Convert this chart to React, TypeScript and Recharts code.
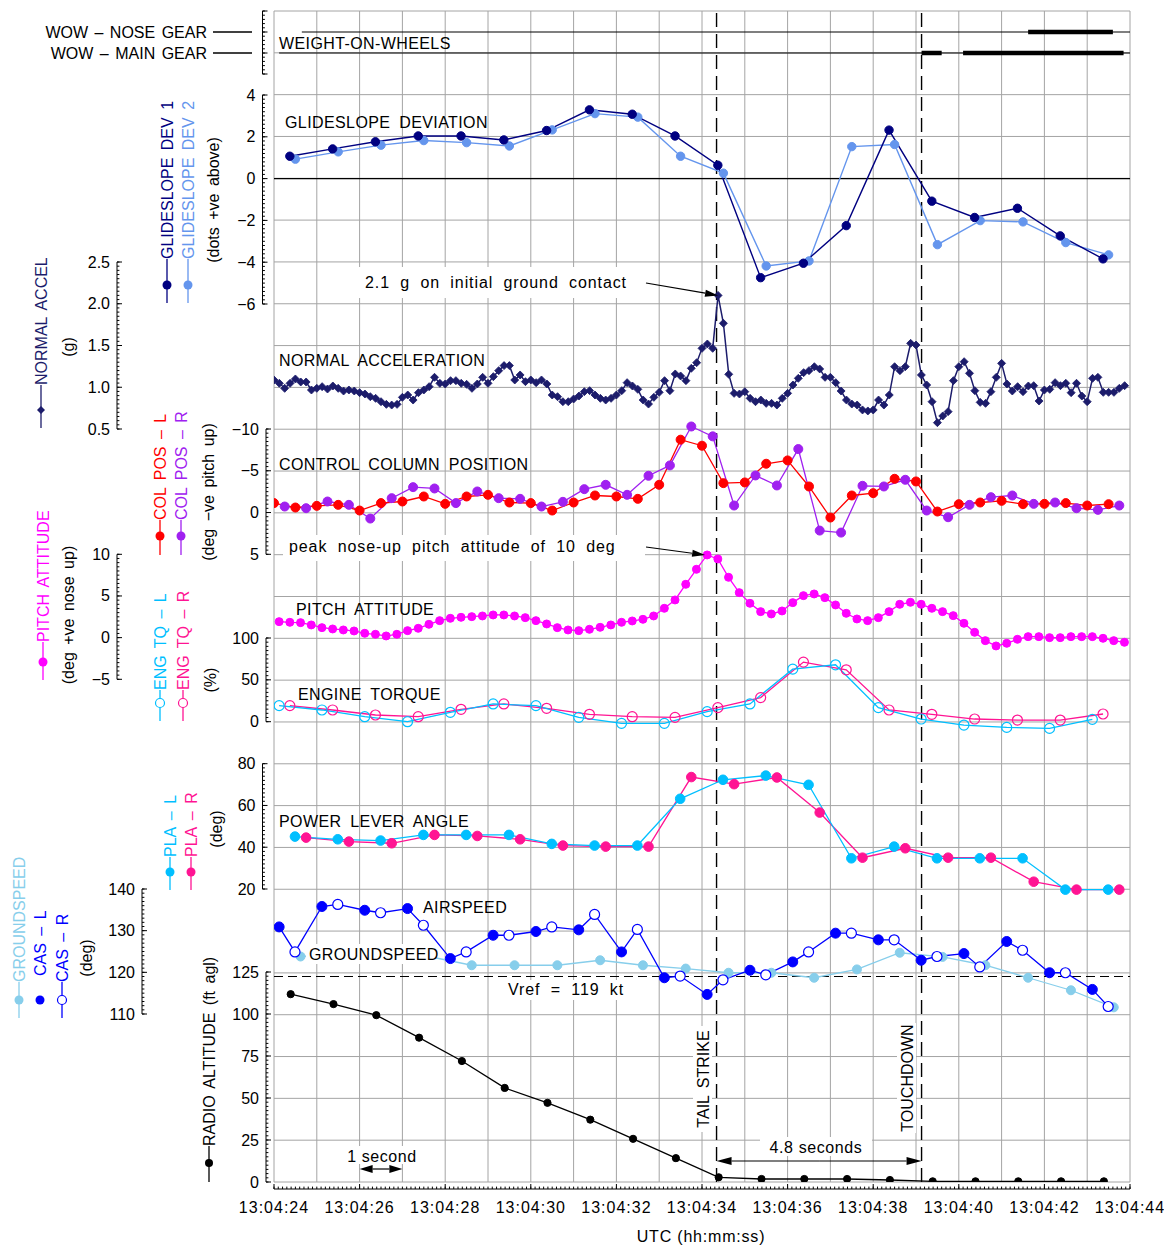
import React from 'react';
import { ComposedChart, Line, XAxis, YAxis, CartesianGrid, ReferenceLine } from 'recharts';

// times are seconds past 13:04:00 UTC
const timeTicks = [24, 26, 28, 30, 32, 34, 36, 38, 40, 42, 44];
const gridSeconds = [24, 25, 26, 27, 28, 29, 30, 31, 32, 33, 34, 35, 36, 37, 38, 39, 40, 41, 42, 43, 44];
const gridRows = Array.from({ length: 29 }, (_, i) => i);
const tailStrikeT = 34.34;
const touchdownT = 39.13;

// weight on wheels: thin = air, thick = ground
const wowNoseSpan = [24.65, 44];
const wowMainSpan = [24.12, 44];
const wowNoseGround = [[41.62, 43.6]];
const wowMainGround = [[39.13, 39.6], [40.1, 43.85]];

// glideslope deviation (dots), 1 Hz
const gsDev1Start = 24.37;
const gsDev1 = [1.07, 1.42, 1.76, 2.04, 2.04, 1.85, 2.3, 3.29, 3.08, 2.04, 0.64, -4.74, -4.05, -2.25, 2.32, -1.08, -1.86, -1.42, -2.74, -3.84];
const gsDev2Start = 24.5;
const gsDev2 = [0.93, 1.28, 1.6, 1.82, 1.72, 1.56, 2.33, 3.11, 2.94, 1.07, 0.26, -4.18, -3.94, 1.53, 1.63, -3.16, -2.01, -2.07, -3.06, -3.65];

// normal acceleration (g), 8 Hz
const naccStart = 24.0;
const nacc = [
  1.087, 1.047, 0.987, 1.047, 1.099, 1.063, 1.063, 0.967, 0.987, 1.007,
  0.979, 1.015, 0.987, 0.955, 0.967, 0.955, 0.935, 0.919, 0.887, 0.867,
  0.827, 0.795, 0.787, 0.795, 0.879, 0.907, 0.847, 0.935, 0.967, 1.007,
  1.119, 1.047, 1.039, 1.079, 1.079, 1.047, 1.035, 0.987, 1.039, 1.119,
  1.047, 1.127, 1.199, 1.259, 1.259, 1.087, 1.147, 1.067, 1.087, 1.055,
  1.087, 1.039, 0.907, 0.887, 0.827, 0.827, 0.859, 0.895, 0.947, 0.959,
  0.907, 0.867, 0.847, 0.867, 0.907, 0.959, 1.055, 1.015, 0.975, 0.847,
  0.799, 0.879, 0.939, 1.079, 0.959, 1.159, 1.135, 1.079, 1.227, 1.294,
  1.466, 1.518, 1.466, 2.1, 1.766, 1.155, 0.927, 0.919, 0.947, 0.867,
  0.827, 0.847, 0.807, 0.807, 0.787, 0.867, 0.927, 1.027, 1.107, 1.175,
  1.199, 1.246, 1.219, 1.119, 1.119, 1.055, 0.955, 0.847, 0.799, 0.787,
  0.728, 0.716, 0.728, 0.847, 0.787, 0.907, 1.246, 1.199, 1.246, 1.526,
  1.506, 1.147, 1.027, 0.827, 0.576, 0.656, 0.708, 1.079, 1.246, 1.306,
  1.167, 0.959, 0.819, 0.807, 0.947, 1.119, 1.286, 1.039, 0.955, 1.007,
  0.947, 1.015, 1.019, 0.835, 0.967, 0.975, 1.055, 1.019, 1.047, 0.935,
  1.047, 0.895, 0.827, 1.107, 1.119, 0.939, 0.939, 0.939, 0.987, 1.019,
];

// control column position (deg, -ve pitch up), 2 Hz
const colLStart = 24.0;
const colL = [
  -1.13, -0.6, -0.8, -0.92, -0.24, -1.13, -1.32, -1.92, -1.04, -1.92,
  -2.12, -1.2, -1.13, -0.24, -1.2, -2.04, -1.92, -1.64, -3.32, -8.72,
  -8.0, -3.52, -3.6, -5.84, -6.24, -3.12, 0.6, -2.04, -2.32, -4.04,
  -3.72, -0.12, -1.0, -1.2, -1.4, -1.0, -1.04, -1.13, -0.84, -1.0,
];
const colRStart = 24.25;
const colR = [
  -0.72, -0.52, -1.32, -0.92, 0.72, -1.72, -3.04, -2.88, -1.13, -2.52,
  -1.72, -1.64, -0.72, -1.28, -2.8, -3.32, -2.12, -4.4, -5.64, -10.3,
  -9.12, -0.84, -4.44, -3.24, -7.6, 2.16, 2.4, -3.2, -3.12, -3.92,
  -0.24, 0.56, -0.92, -1.84, -2.04, -1.04, -1.2, -0.52, -0.32, -0.84,
];

// pitch attitude (deg), 4 Hz
const pitchStart = 24.12;
const pitch = [
  1.92, 1.84, 1.8, 1.52, 1.2, 1.04, 0.92, 0.8, 0.52, 0.4,
  0.2, 0.4, 0.84, 1.12, 1.6, 2.04, 2.32, 2.44, 2.52, 2.6,
  2.72, 2.72, 2.6, 2.4, 2.04, 1.64, 1.2, 0.92, 0.84, 1.0,
  1.24, 1.52, 1.84, 2.0, 2.2, 2.6, 3.52, 4.52, 6.4, 8.2,
  9.92, 9.44, 7.24, 5.4, 4.12, 3.12, 2.84, 3.2, 4.2, 5.04,
  5.24, 4.8, 3.92, 2.92, 2.24, 2.04, 2.4, 3.12, 4.0, 4.24,
  4.0, 3.52, 3.12, 2.64, 1.72, 0.64, -0.36, -1.0, -0.68, -0.2,
  0.12, 0.12, 0.0, 0.0, 0.12, 0.12, 0.12, -0.08, -0.36, -0.56,
];

// engine torque (%), 1 Hz
const tqLStart = 24.12;
const tqL = [19.2, 14.0, 6.0, 0, 11.2, 21.2, 19.2, 5.2, -2.0, -2.0, 12.0, 21.2, 62.8, 68.0, 16.8, 3.2, -4.0, -6.8, -8.0, 2.8];
const tqRStart = 24.37;
const tqR = [19.2, 14.0, 8.0, 6.0, 14.8, 21.2, 16.0, 8.8, 6.0, 5.2, 16.8, 28.8, 71.2, 62.0, 14.0, 8.8, 3.2, 2.0, 2.0, 9.2];

// power lever angle (deg), 1 Hz
const plaLStart = 24.49;
const plaL = [45.1, 43.8, 43.2, 45.9, 45.9, 45.9, 41.6, 40.8, 40.8, 63.2, 72.3, 74.3, 69.9, 34.7, 40.3, 34.7, 34.7, 34.7, 19.7, 19.7];
const plaRStart = 24.75;
const plaR = [44.6, 42.7, 41.9, 45.9, 45.4, 43.8, 40.8, 40.3, 40.3, 73.6, 70.2, 73.4, 56.6, 35.0, 39.5, 35.0, 35.0, 23.5, 19.7, 19.7];

// airspeed / groundspeed (kt), 1 Hz each
const casLStart = 24.12;
const casL = [130.9, 135.8, 134.9, 135.3, 123.3, 128.9, 129.8, 130.2, 124.9, 118.7, 114.7, 120.5, 122.5, 129.4, 127.8, 122.9, 124.5, 127.4, 119.9, 115.9];
const casRStart = 24.49;
const casR = [124.9, 136.3, 134.3, 131.3, 124.9, 128.9, 130.9, 133.9, 130.3, 119.1, 118.2, 119.4, 124.9, 129.4, 127.8, 123.8, 121.3, 125.3, 119.9, 111.8];
const gndStart = 24.62;
const gndSpeed = [123.8, 124.2, 124.0, 123.8, 121.7, 121.7, 121.7, 122.9, 121.7, 120.9, 119.9, 119.9, 118.7, 120.7, 124.7, 123.7, 121.7, 118.7, 115.7, 111.6];
const vref = 119;

// radio altitude (ft agl), 1 Hz
const raltStart = 24.39;
const ralt = [111.8, 105.9, 99.3, 85.9, 72.0, 56.0, 47.1, 37.1, 25.7, 14.2, 2.8, 1.8, 1.8, 1.8, 1.2, 0.4, 0.4, 0.4, 0.4, 0.4];

// axis tick labels
const gsTicks = [4, 2, 0, -2, -4, -6];
const naccTicks = [2.5, 2.0, 1.5, 1.0, 0.5];
const colTicks = [-10, -5, 0, 5];
const pitchTicks = [10, 5, 0, -5];
const tqTicks = [100, 50, 0];
const plaTicks = [80, 60, 40, 20];
const casTicks = [140, 130, 120, 110];
const raltTicks = [125, 100, 75, 50, 25, 0];
const wowTicks = [2, 1, 0, -1];

// ---------------- layout ----------------
const W = 1164;
const H = 1237;
const OFF = 8; // body margin
const TOP = 11;
const BOTTOM = 1182;
const LEFT = 274;
const RIGHT = 1130;

// each panel: two (value, page y) pairs
const scaleRefs: Record<string, number[]> = {
  grid: [28, TOP, 0, BOTTOM],
  wow: [1, 32, 0, 53],
  gs: [4, 95, -6, 304],
  nacc: [2.5, 262, 0.5, 429],
  col: [-10, 429, 5, 554.3],
  pitch: [10, 554.3, -5, 679.3],
  tq: [100, 638, 0, 721.7],
  pla: [80, 763.7, 20, 889],
  cas: [140, 889, 110, 1014],
  ralt: [125, 972, 0, 1182],
};

function yDomain(id: string) {
  const [v1, y1, v2, y2] = scaleRefs[id];
  const s = (y2 - y1) / (v2 - v1);
  const vt = v1 + (TOP - y1) / s;
  const vb = v1 + (BOTTOM - y1) / s;
  return s < 0 ? { domain: [vb, vt], reversed: false } : { domain: [vt, vb], reversed: true };
}
const py = (id: string, v: number) => {
  const [v1, y1, v2, y2] = scaleRefs[id];
  return y1 + ((v - v1) * (y2 - y1)) / (v2 - v1);
};
const px = (t: number) => LEFT + ((t - 24) * (RIGHT - LEFT)) / 20;

const series = (start: number, step: number, vals: number[]) =>
  vals.map((v, i) => ({ t: +(start + i * step).toFixed(3), v }));
const wowThin = (span: number[], row: number) => [{ t: span[0], v: row }, { t: span[1], v: row }];
const wowThick = (segs: number[][], row: number) =>
  segs.flatMap(([a, b]) => [{ t: a, v: row }, { t: b, v: row }, { t: b, v: null as number | null }]);

const casLPts = series(casLStart, 1, casL);
const casRPts = series(casRStart, 1, casR);
const casAll = [...casLPts, ...casRPts].sort((a, b) => a.t - b.t);

const C = {
  navy: '#000080',
  dev2: '#6495ed',
  nacc: '#1c1c6b',
  red: '#ff0000',
  purple: '#a020f0',
  magenta: '#ff00ff',
  cyan: '#00bfff',
  pink: '#ff1493',
  blue: '#0000ff',
  sky: '#87ceeb',
  black: '#000000',
};

const diamond = (color: string, s: number) => (p: any) => {
  const { cx, cy, index } = p;
  if (cx == null || cy == null) return <g key={index} />;
  return (
    <path key={index} d={`M${cx},${cy - s}L${cx + s},${cy}L${cx},${cy + s}L${cx - s},${cy}Z`} fill={color} stroke={color} strokeWidth={0.8} />
  );
};
const filled = (color: string, r: number) => ({ r, fill: color, stroke: color, strokeWidth: 1 });
const open = (color: string, r: number) => ({ r, fill: 'none', stroke: color, strokeWidth: 1.2 });

const common = { xAxisId: 't', dataKey: 'v', isAnimationActive: false, activeDot: false, legendType: 'none' as const, type: 'linear' as const };

const FONT = '"Liberation Sans", Arial, sans-serif';
const minus = (v: number) => (v < 0 ? '\u2212' + String(-v) : String(v));

function AxisDecor({ id, x, ticks, minor, fmt, labels = true }: { id: string; x: number; ticks: number[]; minor: number; fmt?: (v: number) => string; labels?: boolean }) {
  const lo = Math.min(...ticks);
  const hi = Math.max(...ticks);
  const n = Math.round((hi - lo) / minor);
  const f = fmt || minus;
  return (
    <g stroke="#000" strokeWidth={1}>
      <line x1={x} x2={x} y1={py(id, lo)} y2={py(id, hi)} />
      {Array.from({ length: n + 1 }, (_, k) => {
        const y = py(id, lo + k * minor);
        return <line key={'m' + k} x1={x} x2={x + 2.4} y1={y} y2={y} />;
      })}
      {ticks.map((v) => {
        const y = py(id, v);
        return (
          <g key={'M' + v}>
            <line x1={x} x2={x + 5} y1={y} y2={y} />
            {labels && (
              <text x={x - 7} y={y} textAnchor="end" dominantBaseline="central" stroke="none" fill="#000" fontSize={16}>
                {f(v)}
              </text>
            )}
          </g>
        );
      })}
    </g>
  );
}

type Marker = 'dot' | 'open' | 'diamond';
function VLegend({ x, textEnd, label, color, line, markerY, marker, r = 4.5 }: { x: number; textEnd: number; label: string; color: string; line?: number[]; markerY: number; marker: Marker; r?: number }) {
  return (
    <g>
      {line && <line x1={x} x2={x} y1={line[0]} y2={line[1]} stroke={color} strokeWidth={1.3} />}
      {marker === 'dot' && <circle cx={x} cy={markerY} r={r} fill={color} />}
      {marker === 'open' && <circle cx={x} cy={markerY} r={r} fill="#fff" stroke={color} strokeWidth={1.2} />}
      {marker === 'diamond' && <path d={`M${x},${markerY - 4}L${x + 4},${markerY}L${x},${markerY + 4}L${x - 4},${markerY}Z`} fill={color} />}
      <text x={x} y={textEnd} transform={`rotate(-90 ${x} ${textEnd})`} textAnchor="start" dominantBaseline="central" fill={color} fontSize={16} wordSpacing={3}>
        {label}
      </text>
    </g>
  );
}
function VText({ x, cy, label, color = '#000' }: { x: number; cy: number; label: string; color?: string }) {
  return (
    <text x={x} y={cy} transform={`rotate(-90 ${x} ${cy})`} textAnchor="middle" dominantBaseline="central" fill={color} fontSize={16} wordSpacing={3}>
      {label}
    </text>
  );
}
function Arrow({ x1, y1, x2, y2, head = 13, half = 3.5 }: { x1: number; y1: number; x2: number; y2: number; head?: number; half?: number }) {
  const a = Math.atan2(y2 - y1, x2 - x1);
  const bx = x2 - head * Math.cos(a);
  const by = y2 - head * Math.sin(a);
  const nx = -Math.sin(a) * half;
  const ny = Math.cos(a) * half;
  return (
    <g>
      <line x1={x1} y1={y1} x2={bx} y2={by} stroke="#000" strokeWidth={1.2} />
      <path d={`M${x2},${y2}L${bx + nx},${by + ny}L${bx - nx},${by - ny}Z`} fill="#000" />
    </g>
  );
}

export default function App() {
  const title = { fontSize: 16, letterSpacing: 0.4, wordSpacing: 4, fill: '#000' };
  const note = { fontSize: 16, letterSpacing: 0.9, wordSpacing: 5, fill: '#000' };
  return (
    <div style={{ position: 'relative', width: W, height: H, background: '#fff' }}>
      <ComposedChart width={W} height={H} margin={{ top: TOP - OFF, right: W - (RIGHT - OFF), bottom: H - (BOTTOM - OFF), left: LEFT - OFF }}>
        <XAxis xAxisId="t" type="number" dataKey="t" domain={[24, 44]} ticks={gridSeconds} hide allowDataOverflow />
        {Object.keys(scaleRefs).map((id) => {
          const d = yDomain(id);
          return (
            <YAxis key={id} yAxisId={id} type="number" domain={d.domain} reversed={d.reversed} hide allowDataOverflow ticks={id === 'grid' ? gridRows : undefined} />
          );
        })}
        <CartesianGrid xAxisId="t" yAxisId="grid" stroke="#a4a4a4" strokeWidth={1} />

        <ReferenceLine xAxisId="t" yAxisId="gs" y={0} stroke="#000" strokeWidth={1.2} />
        <ReferenceLine xAxisId="t" yAxisId="cas" y={vref} stroke="#000" strokeWidth={1.2} strokeDasharray="9 5" />
        <ReferenceLine xAxisId="t" yAxisId="grid" x={tailStrikeT} stroke="#000" strokeWidth={1.4} strokeDasharray="14 7" />
        <ReferenceLine xAxisId="t" yAxisId="grid" x={touchdownT} stroke="#000" strokeWidth={1.4} strokeDasharray="14 7" />

        <Line {...common} yAxisId="wow" data={wowThin(wowNoseSpan, 1)} stroke="#000" strokeWidth={1.2} dot={false} />
        <Line {...common} yAxisId="wow" data={wowThin(wowMainSpan, 0)} stroke="#000" strokeWidth={1.2} dot={false} />
        <Line {...common} yAxisId="wow" data={wowThick(wowNoseGround, 1)} stroke="#000" strokeWidth={4.5} dot={false} />
        <Line {...common} yAxisId="wow" data={wowThick(wowMainGround, 0)} stroke="#000" strokeWidth={4.5} dot={false} />

        <Line {...common} yAxisId="gs" data={series(gsDev2Start, 1, gsDev2)} stroke={C.dev2} strokeWidth={1.4} dot={filled(C.dev2, 4.2)} />
        <Line {...common} yAxisId="gs" data={series(gsDev1Start, 1, gsDev1)} stroke={C.navy} strokeWidth={1.4} dot={filled(C.navy, 4.2)} />

        <Line {...common} yAxisId="nacc" data={series(naccStart, 0.125, nacc)} stroke={C.nacc} strokeWidth={1.5} dot={diamond(C.nacc, 4)} />

        <Line {...common} yAxisId="col" data={series(colRStart, 0.5, colR)} stroke={C.purple} strokeWidth={1.3} dot={filled(C.purple, 4.5)} />
        <Line {...common} yAxisId="col" data={series(colLStart, 0.5, colL)} stroke={C.red} strokeWidth={1.3} dot={filled(C.red, 4.5)} />

        <Line {...common} yAxisId="pitch" data={series(pitchStart, 0.25, pitch)} stroke={C.magenta} strokeWidth={1.3} dot={filled(C.magenta, 4)} />

        <Line {...common} yAxisId="tq" data={series(tqRStart, 1, tqR)} stroke={C.pink} strokeWidth={1.3} dot={open(C.pink, 5)} />
        <Line {...common} yAxisId="tq" data={series(tqLStart, 1, tqL)} stroke={C.cyan} strokeWidth={1.3} dot={open(C.cyan, 5)} />

        <Line {...common} yAxisId="pla" data={series(plaRStart, 1, plaR)} stroke={C.pink} strokeWidth={1.3} dot={filled(C.pink, 4.8)} />
        <Line {...common} yAxisId="pla" data={series(plaLStart, 1, plaL)} stroke={C.cyan} strokeWidth={1.3} dot={filled(C.cyan, 4.8)} />

        <Line {...common} yAxisId="cas" data={series(gndStart, 1, gndSpeed)} stroke={C.sky} strokeWidth={1.3} dot={filled(C.sky, 4.5)} />
        <Line {...common} yAxisId="cas" data={casAll} stroke={C.blue} strokeWidth={1.3} dot={false} />
        <Line {...common} yAxisId="cas" data={casLPts} stroke="none" dot={filled(C.blue, 5)} />
        <Line {...common} yAxisId="cas" data={casRPts} stroke="none" dot={{ r: 5, fill: '#fff', stroke: C.blue, strokeWidth: 1.2 }} />

        <Line {...common} yAxisId="ralt" data={series(raltStart, 1, ralt)} stroke={C.black} strokeWidth={1.3} dot={filled(C.black, 3.6)} />
      </ComposedChart>

      <svg width={W} height={H} style={{ position: 'absolute', left: 0, top: 0, pointerEvents: 'none' }} fontFamily={FONT}>
        <g transform={`translate(${-OFF},${-OFF})`}>
          {/* left scales */}
          <AxisDecor id="wow" x={262.5} ticks={wowTicks} minor={0.2} labels={false} />
          <AxisDecor id="gs" x={262.5} ticks={gsTicks} minor={0.2} />
          <AxisDecor id="nacc" x={117} ticks={naccTicks} minor={0.05} fmt={(v) => v.toFixed(1)} />
          <AxisDecor id="col" x={266} ticks={colTicks} minor={0.5} />
          <AxisDecor id="pitch" x={117} ticks={pitchTicks} minor={0.5} />
          <AxisDecor id="tq" x={266} ticks={tqTicks} minor={5} />
          <AxisDecor id="pla" x={262.5} ticks={plaTicks} minor={2} />
          <AxisDecor id="cas" x={142} ticks={casTicks} minor={1} />
          <AxisDecor id="ralt" x={266} ticks={raltTicks} minor={2.5} />

          {/* time axis */}
          <g stroke="#000" strokeWidth={1}>
            <line x1={px(24)} x2={px(44)} y1={1189} y2={1189} />
            {Array.from({ length: 201 }, (_, k) => (
              <line key={k} x1={px(24 + k * 0.1)} x2={px(24 + k * 0.1)} y1={1189} y2={1186.6} />
            ))}
            {timeTicks.map((t) => (
              <line key={'T' + t} x1={px(t)} x2={px(t)} y1={1189} y2={1184} />
            ))}
          </g>
          {timeTicks.map((t) => (
            <text key={'L' + t} x={px(t)} y={1213} textAnchor="middle" fontSize={16} letterSpacing={1}>
              {`13:04:${t}`}
            </text>
          ))}
          <text x={701} y={1242} textAnchor="middle" fontSize={16} letterSpacing={0.8}>UTC (hh:mm:ss)</text>

          {/* WOW legend */}
          <text x={207} y={32} textAnchor="end" dominantBaseline="central" fontSize={16} wordSpacing={2}>WOW – NOSE GEAR</text>
          <line x1={213} x2={252} y1={32} y2={32} stroke="#000" strokeWidth={1.5} />
          <text x={207} y={53} textAnchor="end" dominantBaseline="central" fontSize={16} wordSpacing={2}>WOW – MAIN GEAR</text>
          <line x1={213} x2={252} y1={53} y2={53} stroke="#000" strokeWidth={1.5} />

          {/* vertical legends */}
          <VLegend x={167} textEnd={259} label="GLIDESLOPE DEV 1" color={C.navy} line={[259, 303]} markerY={285} marker="dot" />
          <VLegend x={188} textEnd={259} label="GLIDESLOPE DEV 2" color={C.dev2} line={[259, 303]} markerY={285} marker="dot" />
          <VText x={213} cy={200} label="(dots +ve above)" />
          <VLegend x={41} textEnd={385} label="NORMAL ACCEL" color={C.nacc} line={[385, 428]} markerY={410} marker="diamond" />
          <VText x={68} cy={347} label="(g)" />
          <VLegend x={160} textEnd={520} label="COL POS – L" color={C.red} line={[520, 555]} markerY={536} marker="dot" />
          <VLegend x={181} textEnd={520} label="COL POS – R" color={C.purple} line={[520, 555]} markerY={536} marker="dot" />
          <VText x={208} cy={492} label="(deg −ve pitch up)" />
          <VLegend x={43} textEnd={642} label="PITCH ATTITUDE" color={C.magenta} line={[642, 680]} markerY={662} marker="dot" />
          <VText x={68} cy={615} label="(deg +ve nose up)" />
          <VLegend x={160} textEnd={690} label="ENG TQ – L" color={C.cyan} line={[690, 721]} markerY={703} marker="open" />
          <VLegend x={183} textEnd={690} label="ENG TQ – R" color={C.pink} line={[690, 721]} markerY={703} marker="open" />
          <VText x={210} cy={680} label="(%)" />
          <VLegend x={170} textEnd={857} label="PLA – L" color={C.cyan} line={[857, 890]} markerY={872} marker="dot" />
          <VLegend x={191} textEnd={857} label="PLA – R" color={C.pink} line={[857, 890]} markerY={872} marker="dot" />
          <VText x={216} cy={829} label="(deg)" />
          <VLegend x={19} textEnd={982} label="GROUNDSPEED" color={C.sky} line={[982, 1018]} markerY={1000} marker="dot" />
          <VLegend x={40} textEnd={976} label="CAS – L" color={C.blue} markerY={1000} marker="dot" />
          <VLegend x={62} textEnd={982} label="CAS – R" color={C.blue} line={[982, 1018]} markerY={1000} marker="open" />
          <VText x={86} cy={958} label="(deg)" />
          <VLegend x={209} textEnd={1146} label="RADIO ALTITUDE (ft agl)" color="#000" line={[1146, 1182]} markerY={1163} marker="dot" r={4} />

          {/* panel titles */}
          <text x={279} y={49} {...title}>WEIGHT-ON-WHEELS</text>
          <text x={285} y={128} {...title}>GLIDESLOPE DEVIATION</text>
          <text x={279} y={366} {...title}>NORMAL ACCELERATION</text>
          <text x={279} y={470} {...title}>CONTROL COLUMN POSITION</text>
          <text x={296} y={615} {...title}>PITCH ATTITUDE</text>
          <text x={298} y={700} {...title}>ENGINE TORQUE</text>
          <text x={279} y={827} {...title}>POWER LEVER ANGLE</text>
          <text x={423} y={913} {...title}>AIRSPEED</text>
          <rect x={306} y={944} width={130} height={20} fill="#fff" />
          <text x={309} y={960} {...title}>GROUNDSPEED</text>

          {/* annotations */}
          <rect x={359} y={267} width={287} height={31} fill="#fff" />
          <text x={365} y={288} {...note}>2.1 g on initial ground contact</text>
          <Arrow x1={646} y1={283} x2={px(34.375)} y2={py('nacc', 2.1)} />

          <rect x={283} y={535} width={362} height={26} fill="#fff" />
          <text x={289} y={552} {...note}>peak nose-up pitch attitude of 10 deg</text>
          <Arrow x1={646} y1={547} x2={px(34.12) - 2} y2={py('pitch', 9.92)} />

          <rect x={500} y={980} width={142} height={20} fill="#fff" />
          <text x={508} y={995} {...note}>Vref = {vref} kt</text>

          <rect x={693} y={1026} width={19} height={106} fill="#fff" />
          <VText x={703} cy={1079} label="TAIL STRIKE" />
          <rect x={897} y={1023} width={19} height={110} fill="#fff" />
          <VText x={907} cy={1078} label="TOUCHDOWN" />

          <rect x={760} y={1137} width={112} height={19} fill="#fff" />
          <text x={816} y={1153} textAnchor="middle" fontSize={16} letterSpacing={0.6}>4.8 seconds</text>
          <Arrow x1={(px(tailStrikeT) + px(touchdownT)) / 2} y1={1161} x2={px(touchdownT)} y2={1161} head={15} half={4} />
          <Arrow x1={(px(tailStrikeT) + px(touchdownT)) / 2} y1={1161} x2={px(tailStrikeT)} y2={1161} head={15} half={4} />

          <rect x={340} y={1146} width={84} height={18} fill="#fff" />
          <text x={382} y={1162} textAnchor="middle" fontSize={16} letterSpacing={0.6}>1 second</text>
          <Arrow x1={px(26.5)} y1={1169} x2={px(27)} y2={1169} head={13} half={4} />
          <Arrow x1={px(26.5)} y1={1169} x2={px(26)} y2={1169} head={13} half={4} />
        </g>
      </svg>
    </div>
  );
}
